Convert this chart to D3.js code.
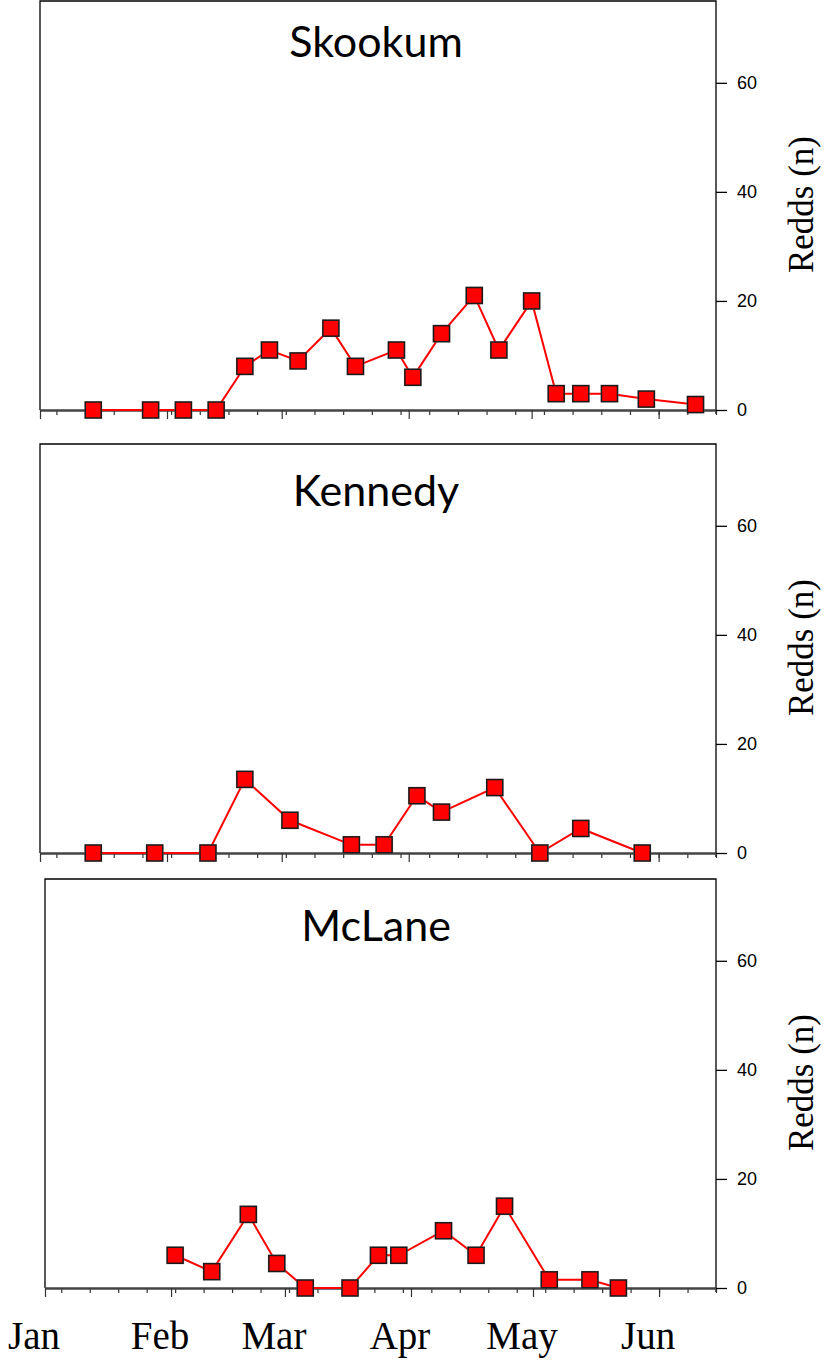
<!DOCTYPE html>
<html>
<head>
<meta charset="utf-8">
<script src="https://cdn.jsdelivr.net/npm/d3@7"></script>
<style>
  html, body { margin: 0; padding: 0; background: #fff; }
  svg { display: block; }
</style>
</head>
<body>
<svg id="chart" width="826" height="1360"></svg>
<script>
// Survey season and axis labels
const seasonYear = 2014;
const monthLabels = ["Jan", "Feb", "Mar", "Apr", "May", "Jun"];
const yTicks = [0, 20, 40, 60];
const streams = ["Skookum", "Kennedy", "McLane"];

// Redd counts per survey date (month-day)
const skookumDates = ["01-14","01-28","02-05","02-13","02-20","02-26","03-05","03-13","03-19","03-29","04-02","04-09","04-17","04-23","05-01","05-07","05-13","05-20","05-29","06-10"];
const skookumRedds = [0,0,0,0,8,11,9,15,8,11,6,14,21,11,20,3,3,3,2,1];

const kennedyDates = ["01-14","01-29","02-11","02-20","03-03","03-18","03-26","04-03","04-09","04-22","05-03","05-13","05-28"];
const kennedyRedds = [0,0,0,13.5,6,1.5,1.5,10.5,7.5,12,0,4.5,0];

const mclaneDates = ["02-02","02-11","02-20","02-27","03-06","03-17","03-24","03-29","04-09","04-17","04-24","05-05","05-15","05-22"];
const mclaneRedds = [6,3,13.5,4.5,0,0,6,6,10.5,6,15,1.5,1.5,0];

const parse = d3.timeParse("%Y-%m-%d");
const toDate = md => parse(seasonYear + "-" + md);

const series = [
  { name: streams[0], dates: skookumDates, values: skookumRedds },
  { name: streams[1], dates: kennedyDates, values: kennedyRedds },
  { name: streams[2], dates: mclaneDates, values: mclaneRedds }
];

// Panel frames: left edge, x-axis baseline, title baseline
const panels = [
  { left: 40, bottom: 410, titleY: 57 },
  { left: 40, bottom: 853, titleY: 506 },
  { left: 45, bottom: 1288, titleY: 941 }
];
const right = 716;
const plotH = 409;

const svg = d3.select("#chart");
const start = new Date(seasonYear, 0, 1);
const end = new Date(seasonYear, 5, 15);

let lastX = null;

series.forEach((s, i) => {
  const p = panels[i];
  const x = d3.scaleTime().domain([start, end]).range([p.left, right]);
  const y = d3.scaleLinear().domain([0, 75]).range([p.bottom, p.bottom - plotH]);
  lastX = x;
  const top = y(75);
  const g = svg.append("g");

  // frame: left, top, right
  g.append("path")
    .attr("d", `M${p.left},${p.bottom} V${top} H${right} V${p.bottom + 4}`)
    .attr("fill", "none")
    .attr("stroke", "#000")
    .attr("stroke-width", 1.3);

  // bottom axis: weekly minor ticks, monthly major ticks
  const weekAxis = d3.axisBottom(x)
    .ticks(d3.timeWeek.every(1))
    .tickSize(5).tickSizeOuter(0).tickFormat("");
  const monthAxis = d3.axisBottom(x)
    .ticks(d3.timeMonth.every(1))
    .tickSize(9).tickSizeOuter(0).tickFormat("");

  const gw = g.append("g").attr("transform", `translate(0,${p.bottom})`).call(weekAxis);
  const gm = g.append("g").attr("transform", `translate(0,${p.bottom})`).call(monthAxis);
  [gw, gm].forEach(a => {
    a.selectAll(".tick line").attr("stroke", "#333").attr("stroke-width", 1.2);
    a.select(".domain").attr("stroke", "#444").attr("stroke-width", 2.2);
  });

  // right value axis
  const ya = d3.axisRight(y).tickValues(yTicks).tickSize(11).tickPadding(10).tickSizeOuter(0);
  const gy = g.append("g").attr("transform", `translate(${right},0)`).call(ya);
  gy.select(".domain").remove();
  gy.selectAll(".tick line").attr("stroke", "#000").attr("stroke-width", 1.3);
  gy.selectAll(".tick text")
    .attr("fill", "#000")
    .style("font-family", "'Liberation Sans', Arial, sans-serif")
    .style("font-size", "18px");

  // axis title
  g.append("text")
    .attr("transform", `translate(813,${p.bottom - plotH / 2 - 1}) rotate(-90)`)
    .attr("text-anchor", "middle")
    .style("font-family", "'Liberation Serif', 'Times New Roman', serif")
    .style("font-size", "35px")
    .attr("fill", "#000")
    .text("Redds (n)");

  // stream name
  g.append("text")
    .attr("x", 376)
    .attr("y", p.titleY)
    .attr("text-anchor", "middle")
    .style("font-family", "Lato, 'Open Sans', sans-serif")
    .style("font-size", "43px")
    .attr("fill", "#000")
    .text(s.name);

  const pts = s.dates.map((d, k) => ({ date: toDate(d), value: s.values[k] }));

  const line = d3.line().x(d => x(d.date)).y(d => y(d.value));
  g.append("path")
    .datum(pts)
    .attr("d", line)
    .attr("fill", "none")
    .attr("stroke", "#ff0000")
    .attr("stroke-width", 2);

  const size = 16;
  const mk = g.append("g").selectAll("g").data(pts).join("g")
    .attr("transform", d => `translate(${x(d.date)},${y(d.value)})`);
  mk.append("rect")
    .attr("x", -size / 2 - 1).attr("y", -size / 2 - 1)
    .attr("width", size + 2).attr("height", size + 2)
    .attr("fill", "#999").attr("opacity", 0.5);
  mk.append("rect")
    .attr("x", -size / 2).attr("y", -size / 2)
    .attr("width", size).attr("height", size)
    .attr("fill", "#ff0000")
    .attr("stroke", "#1a1a1a")
    .attr("stroke-width", 1.5);
});

// month names beneath the bottom panel
svg.append("g").selectAll("text")
  .data(monthLabels)
  .join("text")
  .attr("x", (m, k) => lastX(new Date(seasonYear, k, 1)) - 11)
  .attr("y", 1349)
  .attr("text-anchor", "middle")
  .style("font-family", "'Liberation Serif', 'Times New Roman', serif")
  .style("font-size", "39px")
  .attr("fill", "#000")
  .text(d => d);
</script>
</body>
</html>
